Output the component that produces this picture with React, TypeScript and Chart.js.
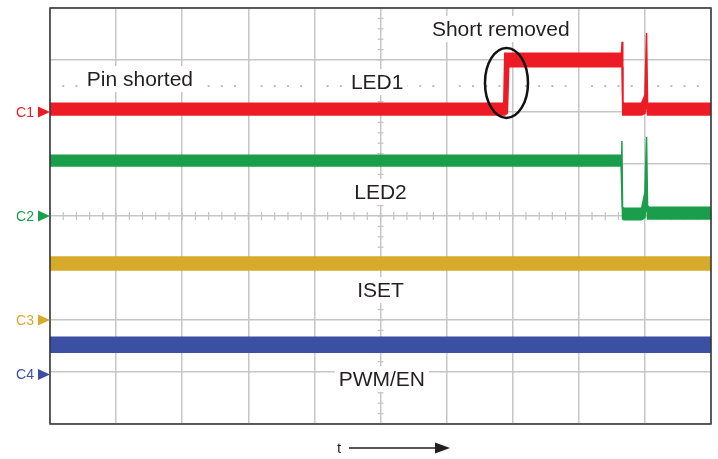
import React, { useEffect, useRef } from "react";
import { Chart, registerables } from "chart.js";
Chart.register(...registerables);

// Time axis in screen divisions (0..10), amplitude in divisions (-4..4)
// Each trace: min/max envelope of the noisy signal
const LED1_T = [0, 6.865, 6.88, 6.92, 6.94, 8.645, 8.655, 8.665, 8.68, 8.95, 9.0, 9.025, 9.04, 9.06, 10];
const LED1_HI = [2.17, 2.17, 3.13, 3.13, 3.13, 3.13, 3.35, 2.2, 2.17, 2.17, 2.32, 3.52, 2.17, 2.17, 2.17];
const LED1_LO = [1.94, 1.94, 1.94, 1.98, 2.87, 2.87, 2.87, 1.94, 1.94, 1.94, 1.97, 2.2, 1.94, 1.94, 1.94];

const LED2_T = [0, 8.64, 8.652, 8.662, 8.68, 8.95, 9.0, 9.025, 9.04, 9.06, 10];
const LED2_HI = [1.17, 1.17, 1.44, 0.17, 0.15, 0.15, 0.45, 1.52, 0.2, 0.17, 0.17];
const LED2_LO = [0.96, 0.96, 0.96, -0.06, -0.07, -0.07, -0.03, 0.3, -0.06, -0.06, -0.06];

const ISET_T = [0, 10];
const ISET_HI = [-0.79, -0.79];
const ISET_LO = [-1.04, -1.04];

const PWM_T = [0, 10];
const PWM_HI = [-2.33, -2.33];
const PWM_LO = [-2.62, -2.62];

const CHANNELS = ["C1", "C2", "C3", "C4"];
const CHANNEL_OFFSETS = [2.0, 0, -2.0, -3.05];
const COLORS = ["#ED1C24", "#1A9E4B", "#D6AA2B", "#3B4FA3"];

const LABELS = ["Pin shorted", "LED1", "Short removed", "LED2", "ISET", "PWM/EN"];
const LABEL_X = [1.36, 4.95, 6.82, 5.0, 5.0, 5.02];
const LABEL_Y = [2.5, 2.44, 3.46, 0.33, -1.56, -3.27];

const MARK_X = 6.906;
const MARK_Y = 2.56;

const pts = (t: number[], v: number[]) => t.map((x, i) => ({ x, y: v[i] }));

const scopePlugin = {
  id: "scope",
  beforeDatasetsDraw(chart: any) {
    const { ctx, scales } = chart;
    const x = scales.x, y = scales.y;
    ctx.save();
    // minor ticks on centre axes
    ctx.strokeStyle = "#c2c2c2";
    ctx.lineWidth = 1.2;
    const cx = x.getPixelForValue(5);
    const cy = y.getPixelForValue(0);
    for (let i = 0; i <= 50; i++) {
      const px = x.getPixelForValue(i * 0.2);
      ctx.beginPath();
      ctx.moveTo(px, cy - 4);
      ctx.lineTo(px, cy + 4);
      ctx.stroke();
    }
    for (let i = 0; i <= 40; i++) {
      const py = y.getPixelForValue(-4 + i * 0.2);
      ctx.beginPath();
      ctx.moveTo(cx - 3, py);
      ctx.lineTo(cx + 3, py);
      ctx.stroke();
    }
    // dotted cursor line
    ctx.fillStyle = "#bdbdbd";
    const dy = y.getPixelForValue(2.5);
    for (let i = 1; i < 50; i++) {
      if (i % 5 === 0) continue;
      const px = x.getPixelForValue(i * 0.2);
      ctx.fillRect(px - 1, dy - 1, 2, 2);
    }
    // labels with white boxes
    ctx.font = '21px "Liberation Sans", Arial, sans-serif';
    ctx.textBaseline = "alphabetic";
    ctx.textAlign = "left";
    LABELS.forEach((t, i) => {
      const w = ctx.measureText(t).width;
      const px = x.getPixelForValue(LABEL_X[i]) - w / 2;
      const py = y.getPixelForValue(LABEL_Y[i]);
      ctx.fillStyle = "#ffffff";
      ctx.fillRect(px - 4, py - 20, w + 8, 26);
      ctx.fillStyle = "#231f20";
      ctx.fillText(t, px, py);
    });
    ctx.restore();
  },
  afterDraw(chart: any) {
    const { ctx, chartArea: a, scales } = chart;
    const x = scales.x, y = scales.y;
    ctx.save();
    // frame
    ctx.strokeStyle = "#333333";
    ctx.lineWidth = 1.5;
    ctx.strokeRect(a.left, a.top, a.right - a.left, a.bottom - a.top);
    // ellipse marking the transition
    ctx.strokeStyle = "#111111";
    ctx.lineWidth = 2.5;
    ctx.beginPath();
    ctx.ellipse(x.getPixelForValue(MARK_X), y.getPixelForValue(MARK_Y), 21.5, 35, 0, 0, Math.PI * 2);
    ctx.stroke();
    // channel markers
    ctx.font = '14px "Liberation Sans", Arial, sans-serif';
    ctx.textAlign = "right";
    ctx.textBaseline = "middle";
    CHANNELS.forEach((c, i) => {
      const py = y.getPixelForValue(CHANNEL_OFFSETS[i]);
      ctx.fillStyle = COLORS[i];
      ctx.fillText(c, a.left - 16, py + 1);
      ctx.beginPath();
      ctx.moveTo(a.left - 12, py - 5.5);
      ctx.lineTo(a.left, py);
      ctx.lineTo(a.left - 12, py + 5.5);
      ctx.closePath();
      ctx.fill();
    });
    // time arrow
    const ty = a.bottom + 24;
    ctx.fillStyle = "#231f20";
    ctx.strokeStyle = "#231f20";
    ctx.textAlign = "left";
    ctx.textBaseline = "alphabetic";
    ctx.font = '15px "Liberation Sans", Arial, sans-serif';
    ctx.fillText("t", 337, ty + 5);
    ctx.lineWidth = 1.5;
    ctx.beginPath();
    ctx.moveTo(349, ty);
    ctx.lineTo(437, ty);
    ctx.stroke();
    ctx.beginPath();
    ctx.moveTo(435, ty - 5.5);
    ctx.lineTo(450, ty);
    ctx.lineTo(435, ty + 5.5);
    ctx.closePath();
    ctx.fill();
    ctx.restore();
  },
};

export default function App() {
  const ref = useRef<HTMLCanvasElement | null>(null);
  useEffect(() => {
    if (!ref.current) return;
    const traces = [
      [LED1_T, LED1_HI, LED1_LO],
      [LED2_T, LED2_HI, LED2_LO],
      [ISET_T, ISET_HI, ISET_LO],
      [PWM_T, PWM_HI, PWM_LO],
    ];
    const datasets: any[] = [];
    traces.forEach(([t, hi, lo], i) => {
      const base = {
        borderColor: COLORS[i],
        backgroundColor: COLORS[i],
        borderWidth: 1.5,
        pointRadius: 0,
        tension: 0,
      };
      datasets.push({ ...base, data: pts(t, hi), fill: false });
      datasets.push({ ...base, data: pts(t, lo), fill: "-1" });
    });
    const chart = new Chart(ref.current, {
      type: "line",
      data: { datasets },
      options: {
        animation: false,
        responsive: false,
        maintainAspectRatio: false,
        layout: { padding: { left: 50, top: 8, right: 7, bottom: 35 } },
        plugins: { legend: { display: false }, tooltip: { enabled: false } },
        scales: {
          x: {
            type: "linear",
            min: 0,
            max: 10,
            ticks: { display: false, stepSize: 1 },
            grid: { color: "#c6c6c6", lineWidth: 1.5, drawTicks: false },
            border: { display: false },
          },
          y: {
            type: "linear",
            min: -4,
            max: 4,
            ticks: { display: false, stepSize: 1 },
            grid: { color: "#c6c6c6", lineWidth: 1.5, drawTicks: false },
            border: { display: false },
          },
        },
      },
      plugins: [scopePlugin],
    });
    return () => chart.destroy();
  }, []);
  return (
    <div style={{ position: "absolute", left: 0, top: 0, width: 718, height: 459, background: "#fff" }}>
      <canvas ref={ref} width={718} height={459} />
    </div>
  );
}
